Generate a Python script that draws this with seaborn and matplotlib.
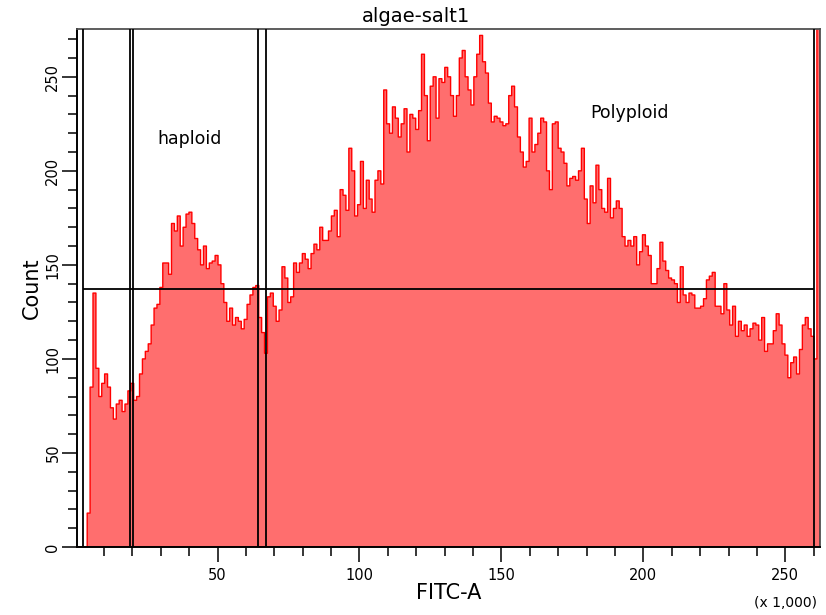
import numpy as np
import pandas as pd
import matplotlib
matplotlib.use("Agg")
import matplotlib.pyplot as plt
from matplotlib.ticker import MultipleLocator
import seaborn as sns

# FITC-A histogram: 256 channels spanning 0..262144 (axis shown in thousands)
counts = [
    0, 0, 0, 0, 18, 85, 135, 95, 80, 87, 92, 85, 74, 68, 76, 78,
    72, 76, 83, 87, 78, 80, 92, 100, 104, 108, 118, 127, 129, 138, 151, 151,
    145, 172, 168, 176, 160, 170, 177, 178, 172, 164, 158, 150, 160, 148, 151, 152,
    155, 150, 140, 130, 120, 127, 118, 122, 120, 116, 121, 129, 134, 138, 139, 122,
    114, 103, 133, 135, 128, 120, 126, 149, 143, 130, 133, 151, 146, 151, 156, 153,
    148, 156, 161, 158, 170, 163, 163, 168, 176, 179, 165, 190, 187, 179, 212, 200,
    176, 182, 205, 180, 195, 185, 178, 195, 200, 193, 243, 225, 220, 234, 228, 218,
    225, 233, 210, 230, 228, 222, 232, 262, 240, 216, 245, 250, 228, 249, 247, 255,
    250, 240, 229, 240, 260, 264, 250, 243, 235, 250, 262, 272, 258, 252, 236, 226,
    229, 228, 226, 224, 225, 240, 245, 234, 218, 210, 202, 205, 228, 210, 214, 220,
    228, 226, 200, 190, 225, 226, 212, 210, 204, 192, 196, 197, 195, 200, 212, 185,
    172, 192, 183, 203, 190, 180, 178, 196, 175, 180, 184, 180, 165, 160, 163, 160,
    165, 150, 157, 166, 160, 155, 140, 140, 148, 162, 152, 147, 143, 142, 140, 130,
    149, 134, 130, 135, 134, 127, 127, 128, 132, 142, 144, 146, 128, 128, 124, 140,
    126, 118, 128, 112, 120, 115, 118, 112, 116, 119, 118, 110, 122, 104, 108, 108,
    115, 124, 118, 108, 102, 90, 98, 101, 92, 105, 118, 122, 116, 112, 100, 400,
]
x_max = 262.144

# gate boundaries (x1000) and the horizontal marker level
gate_lines = [2.6, 19.0, 20.2, 64.2, 67.1, 260.0]
marker_level = 137.2

region_names = ["haploid", "Polyploid"]
region_x = [40, 195]
region_y = [217, 231]

edges = np.linspace(0, x_max, len(counts) + 1)
df = pd.DataFrame({"fitc": (edges[:-1] + edges[1:]) / 2, "count": counts})

sns.set_style("ticks")
plt.rcParams["font.family"] = ["DejaVu Sans"]
plt.rcParams.update({"text.color": "black", "axes.labelcolor": "black",
                     "xtick.color": "black", "ytick.color": "black"})

fig = plt.figure(figsize=(8.26, 6.15), dpi=100)
ax = fig.add_axes([0.0932, 0.1106, 0.8995, 0.8422])

sns.histplot(data=df, x="fitc", weights="count", bins=list(edges), element="step",
             fill=True, color="#FF6E6E", alpha=1, edgecolor="#FF0000", linewidth=1.0,
             ax=ax)

# gates
for g in gate_lines:
    ax.axvline(g, color="black", lw=1.3, zorder=3)
ax.hlines(marker_level, gate_lines[0], gate_lines[-1], color="black", lw=1.3, zorder=3)

for name, tx, ty in zip(region_names, region_x, region_y):
    ax.text(tx, ty, name, ha="center", va="center", fontsize=12.5)

ax.set_xlim(0.5, 262.2)
ax.set_ylim(0, 275.4)
ax.xaxis.set_major_locator(MultipleLocator(50))
ax.xaxis.set_minor_locator(MultipleLocator(10))
ax.yaxis.set_major_locator(MultipleLocator(50))
ax.yaxis.set_minor_locator(MultipleLocator(10))
ax.tick_params(which="major", length=11, width=1.1, direction="out", labelsize=10.5)
ax.tick_params(which="minor", length=6.5, width=1.1, direction="out")
ax.tick_params(axis="x", which="major", pad=4)
ax.tick_params(axis="y", which="major", pad=1, labelrotation=90)
for lab in ax.get_yticklabels():
    lab.set_va("center")

for side in ["top", "right"]:
    ax.spines[side].set_color("#505050")
    ax.spines[side].set_linewidth(1.3)
for side in ["left", "bottom"]:
    ax.spines[side].set_color("black")
    ax.spines[side].set_linewidth(1.4)

ax.set_title("algae-salt1", x=0.456, pad=5, fontsize=14)
ax.set_xlabel("FITC-A", fontsize=15)
ax.xaxis.set_label_coords(0.5, -0.089)
ax.xaxis.label.set_va("center")
ax.set_ylabel("Count", fontsize=15)
ax.yaxis.set_label_coords(-0.061, 0.5)
ax.yaxis.label.set_va("center")
ax.text(0.996, -0.108, "(x 1,000)", transform=ax.transAxes, ha="right", va="center",
        fontsize=10)

fig.savefig("out.png", dpi=100)
